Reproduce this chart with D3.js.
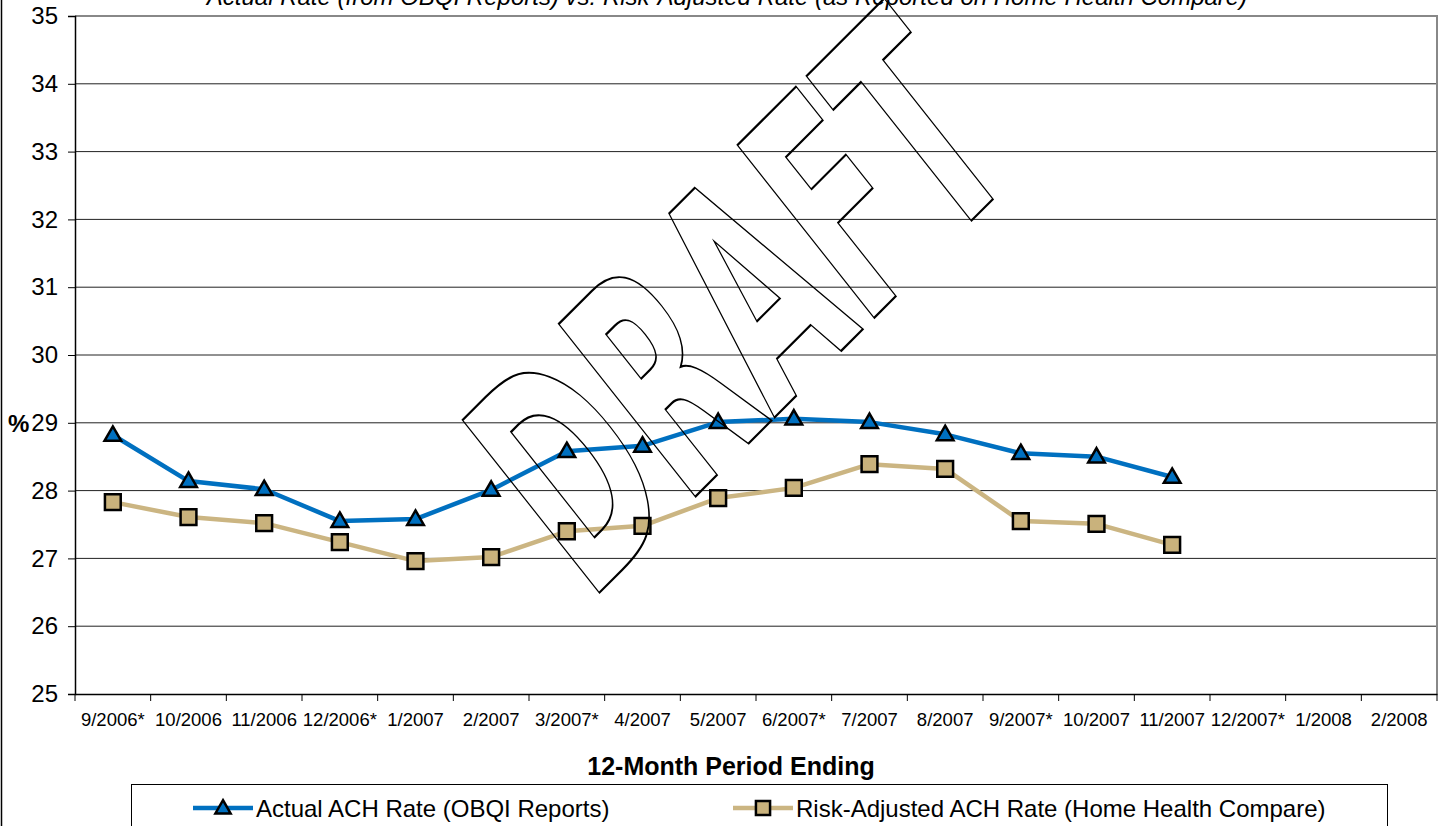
<!DOCTYPE html>
<html>
<head>
<meta charset="utf-8">
<script src="https://cdn.jsdelivr.net/npm/d3@7"></script>
<style>
  html, body { margin: 0; padding: 0; background: #fff; }
  svg { display: block; font-family: "Liberation Sans", Arial, sans-serif; }
</style>
</head>
<body>
<div id="chart"></div>
<script>
// chart data
const categories = ['9/2006*', '10/2006', '11/2006', '12/2006*', '1/2007', '2/2007', '3/2007*', '4/2007',
  '5/2007', '6/2007*', '7/2007', '8/2007', '9/2007*', '10/2007', '11/2007', '12/2007*', '1/2008', '2/2008'];
const actualRate = [28.82, 28.14, 28.02, 27.55, 27.58, 28.01, 28.58, 28.66, 29.01, 29.06, 29.01, 28.83, 28.55, 28.50, 28.20];
const riskAdjustedRate = [27.83, 27.61, 27.52, 27.24, 26.96, 27.02, 27.40, 27.48, 27.89, 28.04, 28.39, 28.32, 27.55, 27.51, 27.20];
const yTicks = [25, 26, 27, 28, 29, 30, 31, 32, 33, 34, 35];
const seriesNames = ['Actual ACH Rate (OBQI Reports)', 'Risk-Adjusted ACH Rate (Home Health Compare)'];
const titleText = 'Actual Rate (from OBQI Reports) vs. Risk-Adjusted Rate (as Reported on Home Health Compare)';
const xTitle = '12-Month Period Ending';

const W = 1445, H = 826;
const blue = '#0070c0', tan = '#cbb582', tanFill = '#c9b27c';

const svg = d3.select('#chart').append('svg')
  .attr('width', W).attr('height', H);

// outer frame
svg.append('rect')
  .attr('x', 1.5).attr('y', -5).attr('width', W + 10).attr('height', H + 10)
  .attr('fill', '#fff').attr('stroke', '#000').attr('stroke-width', 1.5);

// scales
const x = d3.scaleBand().domain(categories).range([75, 1437]).padding(0);
const y = d3.scaleLinear().domain([25, 35]).range([694, 16]);
const cx = c => x(c) + x.bandwidth() / 2;

// title (partly cut off at the top, as in the original)
svg.append('text')
  .attr('x', 727).attr('y', 5)
  .attr('text-anchor', 'middle')
  .style('font-size', '24px').style('font-style', 'italic')
  .text(titleText);

// gridlines
svg.append('g')
  .selectAll('line')
  .data(yTicks.slice(1, -1))
  .enter().append('line')
  .attr('x1', 75).attr('x2', 1437)
  .attr('y1', d => y(d)).attr('y2', d => y(d))
  .attr('stroke', '#222').attr('stroke-width', 1);

// plot border top / right
svg.append('path')
  .attr('d', `M75,${y(35)}H1437V${y(25)}`)
  .attr('fill', 'none').attr('stroke', '#888').attr('stroke-width', 2);

// y axis
const yAxis = svg.append('g')
  .attr('transform', 'translate(75,0)')
  .call(d3.axisLeft(y).tickValues(yTicks).tickSize(7).tickPadding(10).tickFormat(d3.format('d')));
yAxis.select('.domain').attr('stroke', '#000').attr('stroke-width', 1.5);
yAxis.selectAll('.tick line').attr('stroke', '#000');
yAxis.selectAll('.tick text').style('font-size', '24px').attr('fill', '#000')
  .style('font-family', '"Liberation Sans", Arial, sans-serif');

// x axis (ticks on category boundaries)
const xAxis = svg.append('g')
  .attr('transform', `translate(0,${y(25)})`)
  .call(d3.axisBottom(x).tickSize(0).tickPadding(19));
xAxis.select('.domain').attr('stroke', '#000').attr('stroke-width', 1.5);
xAxis.selectAll('.tick text').style('font-size', '18.5px').attr('fill', '#000')
  .style('font-family', '"Liberation Sans", Arial, sans-serif');
xAxis.selectAll('.boundary')
  .data(categories.concat(['end']))
  .enter().append('line')
  .attr('class', 'boundary')
  .attr('x1', (d, i) => i < categories.length ? x(d) : x.range()[1])
  .attr('x2', (d, i) => i < categories.length ? x(d) : x.range()[1])
  .attr('y1', 0).attr('y2', 7)
  .attr('stroke', '#000');

// axis titles
svg.append('text')
  .attr('x', 8).attr('y', y(29) + 9)
  .style('font-size', '24px').style('font-weight', 'bold')
  .text('%');
svg.append('text')
  .attr('x', 731).attr('y', 775)
  .attr('text-anchor', 'middle')
  .style('font-size', '25px').style('font-weight', 'bold')
  .text(xTitle);

// lines
const line = d3.line()
  .x((d, i) => cx(categories[i]))
  .y(d => y(d));

svg.append('path').datum(riskAdjustedRate)
  .attr('d', line).attr('fill', 'none')
  .attr('stroke', tan).attr('stroke-width', 4.5).attr('stroke-linejoin', 'round');
svg.append('path').datum(actualRate)
  .attr('d', line).attr('fill', 'none')
  .attr('stroke', blue).attr('stroke-width', 4.5).attr('stroke-linejoin', 'round');

// markers
const tri = d3.symbol(d3.symbolTriangle, 120);
const sq = d3.symbol(d3.symbolSquare, 250);

svg.append('g').selectAll('path')
  .data(riskAdjustedRate)
  .enter().append('path')
  .attr('d', sq)
  .attr('transform', (d, i) => `translate(${cx(categories[i])},${y(d)})`)
  .attr('fill', tanFill).attr('stroke', '#000').attr('stroke-width', 2.5);

svg.append('g').selectAll('path')
  .data(actualRate)
  .enter().append('path')
  .attr('d', tri)
  .attr('transform', (d, i) => `translate(${cx(categories[i])},${y(d) + 1})`)
  .attr('fill', blue).attr('stroke', '#000').attr('stroke-width', 2.5);

// legend
const legend = svg.append('g');
legend.append('rect')
  .attr('x', 131.5).attr('y', 784.5).attr('width', 1256).attr('height', 60)
  .attr('fill', '#fff').attr('stroke', '#000').attr('stroke-width', 1);

const legendItems = [
  { name: seriesNames[0], color: blue, fill: blue, x0: 193 },
  { name: seriesNames[1], color: tan, fill: tanFill, x0: 733 }
];
legendItems.forEach((it, i) => {
  const g = legend.append('g').attr('transform', `translate(${it.x0},808)`);
  g.append('line').attr('x1', 0).attr('x2', 60).attr('y1', 0).attr('y2', 0)
    .attr('stroke', it.color).attr('stroke-width', 4.5);
  g.append('path').attr('d', i === 0 ? d3.symbol(d3.symbolTriangle, 100) : d3.symbol(d3.symbolSquare, 200))
    .attr('transform', `translate(30,${i === 0 ? 1 : 0})`)
    .attr('fill', it.fill).attr('stroke', '#000').attr('stroke-width', 2.5);
  g.append('text').attr('x', 63).attr('y', 8.5)
    .style('font-size', '24px')
    .text(it.name);
});

// DRAFT watermark: outlined, rotated and condensed
svg.append('text')
  .attr('transform', 'matrix(1.158,-1.158,1.875,2.368,588.6,603.4)')
  .style('font-family', '"DejaVu Sans", sans-serif')
  .style('font-weight', 'bold')
  .style('font-size', '100px')
  .attr('fill', 'none')
  .attr('stroke', '#000')
  .attr('stroke-width', 1.8)
  .attr('vector-effect', 'non-scaling-stroke')
  .text('DRAFT');
</script>
</body>
</html>
